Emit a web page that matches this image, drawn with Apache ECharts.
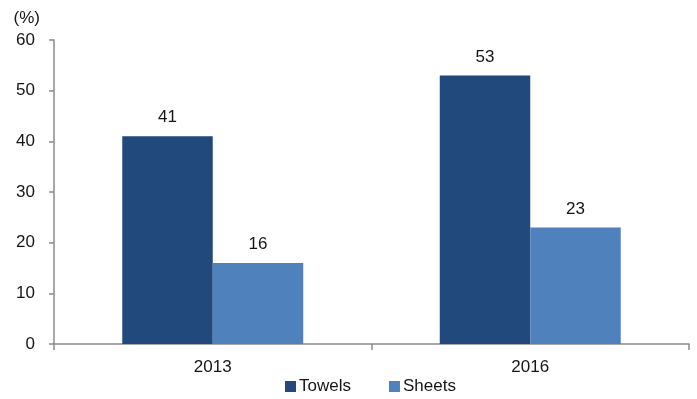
<!DOCTYPE html>
<html>
<head>
<meta charset="utf-8">
<script src="https://cdn.jsdelivr.net/npm/echarts@6/dist/echarts.min.js"></script>
<style>
  html, body { margin: 0; padding: 0; background: #fff; }
  #chart { width: 697px; height: 399px; }
</style>
</head>
<body>
<div id="chart"></div>
<script>
// Share of products (%) by year
const years = ['2013', '2016'];
const towels = [41, 53];
const sheets = [16, 23];
const yTicks = { min: 0, max: 60, interval: 10 };

const font = '"Liberation Sans", Arial, sans-serif';
const fs = 17;
const textColor = '#151515';
const axisGrey = '#8c8c8c';

const chart = echarts.init(document.getElementById('chart'));
chart.setOption({
  animation: false,
  textStyle: { fontFamily: font },
  grid: { left: 54, right: 8, top: 40, bottom: 55, containLabel: false },
  legend: {
    bottom: 4,
    left: 285,
    padding: 0,
    itemWidth: 11,
    itemHeight: 11,
    itemGap: 38,
    icon: 'rect',
    textStyle: { fontFamily: font, fontSize: fs, color: textColor, padding: [0, 0, 0, -2] },
    data: ['Towels', 'Sheets']
  },
  xAxis: {
    type: 'category',
    data: years,
    axisLine: { lineStyle: { color: axisGrey, width: 1.5 } },
    axisTick: { show: true, length: 6, lineStyle: { color: axisGrey, width: 1.5 } },
    axisLabel: { fontFamily: font, fontSize: fs, color: textColor, margin: 15 }
  },
  yAxis: {
    type: 'value',
    min: yTicks.min, max: yTicks.max, interval: yTicks.interval,
    name: '(%)',
    nameLocation: 'end',
    nameGap: 13,
    nameTextStyle: { fontFamily: font, fontSize: fs, color: textColor, align: 'right', padding: [0, 14, 0, 0] },
    axisLine: { show: true, lineStyle: { color: axisGrey, width: 1.5 } },
    axisTick: { show: true, length: 5, lineStyle: { color: axisGrey, width: 1.5 } },
    axisLabel: { fontFamily: font, fontSize: fs, color: textColor, margin: 19 },
    splitLine: { show: false }
  },
  series: [
    {
      name: 'Towels', type: 'bar', data: towels,
      barGap: '0%', barCategoryGap: '43%',
      itemStyle: { color: '#21497c' },
      label: { show: true, position: 'top', distance: 10, fontFamily: font, fontSize: fs, color: textColor }
    },
    {
      name: 'Sheets', type: 'bar', data: sheets,
      barGap: '0%', barCategoryGap: '43%',
      itemStyle: { color: '#4f81bd' },
      label: { show: true, position: 'top', distance: 10, fontFamily: font, fontSize: fs, color: textColor }
    }
  ]
});
</script>
</body>
</html>
